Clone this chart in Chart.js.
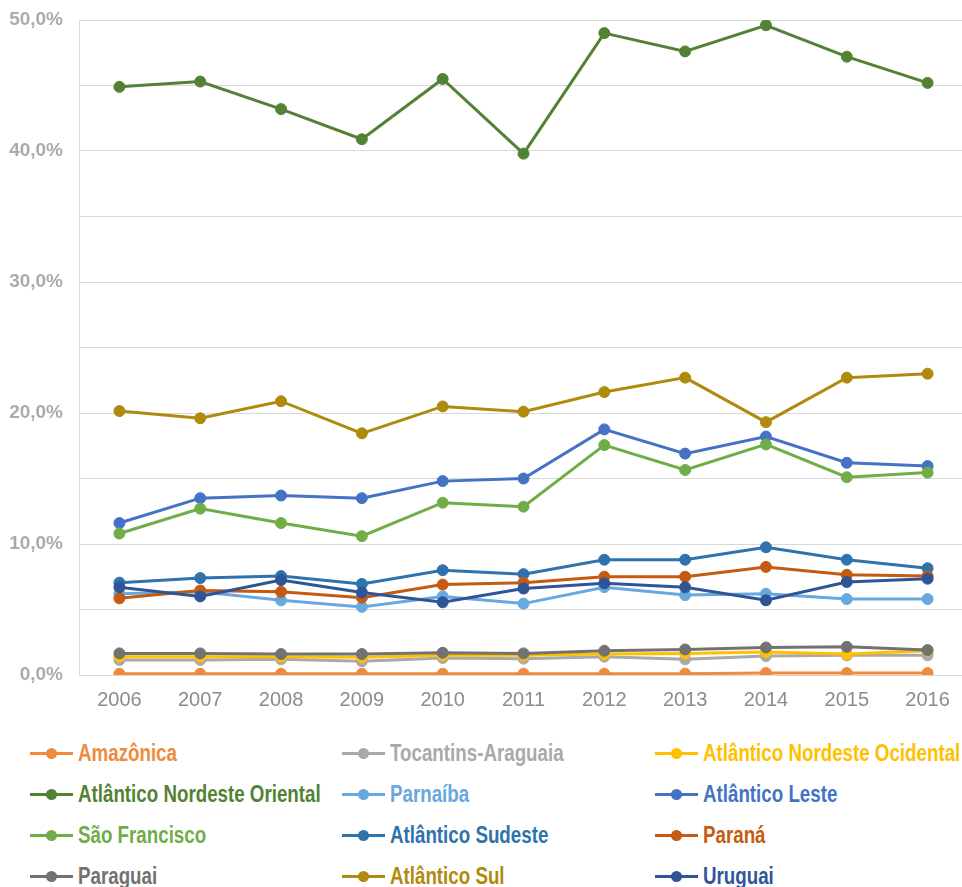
<!DOCTYPE html>
<html lang="pt">
<head>
<meta charset="utf-8">
<title>Regiões hidrográficas 2006-2016</title>
<script src="https://cdn.jsdelivr.net/npm/chart.js@4.4.1/dist/chart.umd.min.js"></script>
<style>
    html, body {
        margin: 0;
        padding: 0;
        background: #ffffff;
        overflow: hidden;
    }
    #wrap {
        position: relative;
        width: 962px;
        height: 887px;
        overflow: hidden;
    }
    #chart {
        position: absolute;
        left: 0;
        top: 0;
    }
    .legend-item {
        position: absolute;
        height: 30px;
        display: flex;
        align-items: center;
        font-family: "Liberation Sans", Arial, sans-serif;
        font-weight: bold;
        font-size: 23px;
        white-space: nowrap;
    }
    .legend-mark {
        position: relative;
        width: 43px;
        height: 3px;
        background: currentColor;
        margin-right: 5px;
        flex: none;
    }
    .legend-mark::after {
        content: '';
        position: absolute;
        left: 16px;
        top: -4px;
        width: 11px;
        height: 11px;
        border-radius: 50%;
        background: currentColor;
    }
    /* narrow the bold face to a condensed look */
    .legend-text {
        display: inline-block;
        transform: scaleX(0.815);
        transform-origin: left center;
    }
</style>
</head>
<body>
<div id="wrap">
    <!-- a little wider than the page: the last column runs off the right edge -->
    <canvas id="chart" width="968" height="722"></canvas>
    <div id="legend"></div>
</div>
<script>
// Years on the x axis
const years = ['2006', '2007', '2008', '2009', '2010', '2011', '2012', '2013', '2014', '2015', '2016'];

// Series names and colours (legend order)
const regionNames = [
    'Amazônica', 'Tocantins-Araguaia', 'Atlântico Nordeste Ocidental',
    'Atlântico Nordeste Oriental', 'Parnaíba', 'Atlântico Leste',
    'São Francisco', 'Atlântico Sudeste', 'Paraná',
    'Paraguai', 'Atlântico Sul', 'Uruguai'
];
const regionColors = [
    '#F08A3C', '#A9A9A9', '#FFC000',
    '#548235', '#67A9DF', '#4472C4',
    '#70AD47', '#2E72AE', '#C55A11',
    '#727272', '#B08A0C', '#2F5597'
];

// Share per year, in percent
const amazonica = [0.1, 0.1, 0.1, 0.1, 0.1, 0.1, 0.1, 0.1, 0.15, 0.15, 0.15];
const tocantinsAraguaia = [1.15, 1.15, 1.2, 1.05, 1.3, 1.25, 1.4, 1.2, 1.45, 1.5, 1.5];
const nordesteOcidental = [1.4, 1.4, 1.4, 1.35, 1.5, 1.5, 1.6, 1.65, 1.75, 1.6, 1.85];
const nordesteOriental = [44.9, 45.3, 43.2, 40.9, 45.5, 39.8, 49.0, 47.6, 49.6, 47.2, 45.2];
const parnaiba = [6.2, 6.35, 5.7, 5.2, 6.0, 5.45, 6.7, 6.1, 6.2, 5.8, 5.8];
const atlanticoLeste = [11.6, 13.5, 13.7, 13.5, 14.8, 15.0, 18.75, 16.9, 18.2, 16.2, 15.95];
const saoFrancisco = [10.8, 12.7, 11.6, 10.6, 13.15, 12.85, 17.55, 15.65, 17.6, 15.1, 15.45];
const atlanticoSudeste = [7.05, 7.4, 7.55, 6.95, 8.0, 7.7, 8.8, 8.8, 9.75, 8.8, 8.15];
const parana = [5.85, 6.45, 6.35, 5.9, 6.9, 7.05, 7.5, 7.5, 8.25, 7.65, 7.55];
const paraguai = [1.65, 1.65, 1.6, 1.6, 1.7, 1.65, 1.85, 1.95, 2.1, 2.15, 1.9];
const atlanticoSul = [20.15, 19.6, 20.9, 18.45, 20.5, 20.1, 21.6, 22.7, 19.3, 22.7, 23.0];
const uruguai = [6.7, 6.0, 7.25, 6.3, 5.55, 6.6, 7.0, 6.7, 5.7, 7.1, 7.35];

const regionValues = [
    amazonica, tocantinsAraguaia, nordesteOcidental,
    nordesteOriental, parnaiba, atlanticoLeste,
    saoFrancisco, atlanticoSudeste, parana,
    paraguai, atlanticoSul, uruguai
];

// y axis range and tick step
const yMin = 0;
const yMax = 50;
const yGridStep = 5;
const yLabelStep = 10;

function formatPercent(value) {
    return value.toFixed(1).replace('.', ',') + '%';
}

// Build datasets; later series are painted over earlier ones
function buildDatasets() {
    return regionNames.map((name, i) => ({
        label: name,
        data: regionValues[i],
        borderColor: regionColors[i],
        backgroundColor: regionColors[i],
        pointBackgroundColor: regionColors[i],
        pointBorderColor: regionColors[i],
        borderWidth: 3,
        pointRadius: 5.5,
        pointBorderWidth: 1,
        pointHoverRadius: 6,
        tension: 0,
        order: regionNames.length - i
    }));
}

// Legend laid out as a 3 column grid
function buildLegend() {
    const legend = document.getElementById('legend');
    const colLeft = [30, 342, 655];
    const rowTop = 738;
    const rowStep = 41.3;

    regionNames.forEach((name, i) => {
        const item = document.createElement('div');
        item.className = 'legend-item';
        item.style.left = colLeft[i % 3] + 'px';
        item.style.top = (rowTop + Math.floor(i / 3) * rowStep) + 'px';
        item.style.color = regionColors[i];

        const mark = document.createElement('span');
        mark.className = 'legend-mark';
        const text = document.createElement('span');
        text.className = 'legend-text';
        text.textContent = name;

        item.appendChild(mark);
        item.appendChild(text);
        legend.appendChild(item);
    });
}

function createChart() {
    const ctx = document.getElementById('chart');

    new Chart(ctx, {
        type: 'line',
        data: {
            labels: years,
            datasets: buildDatasets()
        },
        options: {
            responsive: false,
            animation: false,
            devicePixelRatio: 1,
            layout: {
                autoPadding: false,
                padding: { top: 20, right: 0, bottom: 0, left: 0 }
            },
            scales: {
                x: {
                    offset: true,
                    grid: {
                        display: false,
                        drawTicks: false
                    },
                    border: {
                        display: true,
                        color: '#D9D9D9',
                        width: 1
                    },
                    ticks: {
                        padding: 13,
                        color: '#8C8C8C',
                        font: { family: 'Liberation Sans', size: 20 }
                    },
                    afterFit: scale => {
                        scale.height = 47;
                        scale.paddingLeft = 0;
                        scale.paddingRight = 0;
                    }
                },
                y: {
                    min: yMin,
                    max: yMax,
                    grid: {
                        color: '#D9D9D9',
                        lineWidth: 1,
                        drawTicks: false
                    },
                    border: {
                        display: true,
                        color: '#D9D9D9',
                        width: 1
                    },
                    ticks: {
                        stepSize: yGridStep,
                        padding: 16,
                        color: '#ABABAB',
                        font: { family: 'Liberation Sans', size: 19, weight: 'bold' },
                        callback: value => (value % yLabelStep === 0 ? formatPercent(value) : '')
                    },
                    afterFit: scale => {
                        scale.width = 79;
                        scale.paddingTop = 0;
                        scale.paddingBottom = 0;
                    }
                }
            },
            plugins: {
                legend: { display: false },
                tooltip: {
                    callbacks: {
                        label: context => `${context.dataset.label}: ${formatPercent(context.parsed.y)}`
                    }
                }
            }
        }
    });
}

document.addEventListener('DOMContentLoaded', () => {
    createChart();
    buildLegend();
});
</script>
</body>
</html>
